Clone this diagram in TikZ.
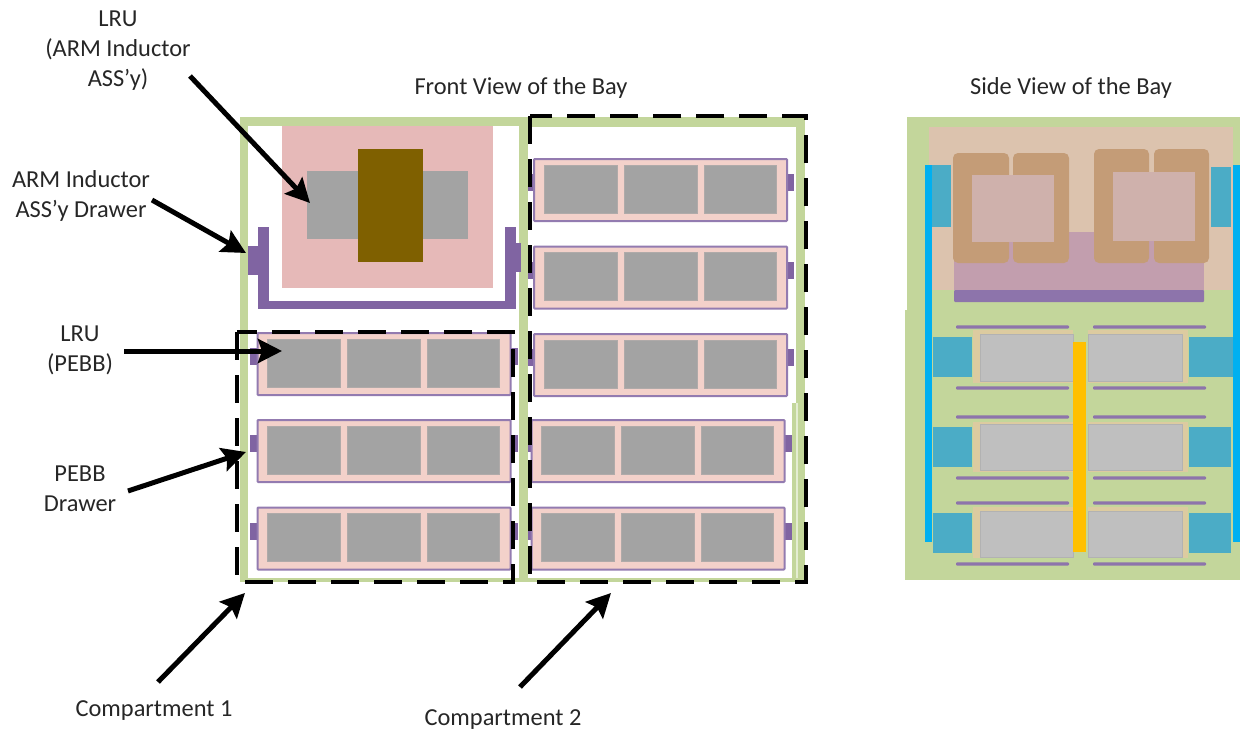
\documentclass[tikz,border=0pt]{standalone}
\usepackage{fontspec}
\setmainfont{Carlito}
\usetikzlibrary{arrows.meta}
\definecolor{framegreen}{HTML}{C3D69B}
\definecolor{rosefill}{HTML}{E6B9B8}
\definecolor{lrugrey}{HTML}{A3A3A3}
\definecolor{corebrown}{HTML}{7F6000}
\definecolor{drawerpurple}{HTML}{8064A2}
\definecolor{drawerpink}{HTML}{F3D1CA}
\definecolor{tanfill}{HTML}{DCC3AE}
\definecolor{mauvefill}{HTML}{C29EAE}
\definecolor{coilfill}{HTML}{C49C77}
\definecolor{innerfill}{HTML}{CFB1AC}
\definecolor{tealfill}{HTML}{4BACC6}
\definecolor{railblue}{HTML}{00B0F0}
\definecolor{orangebar}{HTML}{FFC000}
\definecolor{sidegrey}{HTML}{BFBFBF}
\definecolor{sidetan}{HTML}{DCCBA0}
\tikzset{
  label text/.style={font=\fontsize{24.4}{30}\selectfont, inner sep=0pt, align=center, text=black!85},
  callout/.style={line width=5pt, draw=black, -{Stealth[length=24pt,width=24pt,inset=4pt]}},
  compartment/.style={line width=3.2pt, draw=black, dash pattern=on 28pt off 15pt},
  drawer body/.style={fill=drawerpink, draw=drawerpurple!85, line width=2pt, rounded corners=0.8pt},
  lru block/.style={fill=lrugrey, draw=lrugrey!85!drawerpink, line width=.6pt},
  tab/.style={fill=drawerpurple},
  coil/.style={fill=coilfill, rounded corners=5pt},
  side rail/.style={fill=drawerpurple!90, rounded corners=1pt},
  side lru/.style={fill=sidegrey, draw=black!30, line width=.8pt},
}
% #1 left x, #2 top y, #3 grey-block shift, #4 left edge of the left tab
\newcommand{\drawerrow}[4]{%
  \fill[tab] (#4,#2+15) rectangle (#1+1,#2+32);
  \fill[tab] (#1+252,#2+15) rectangle (#1+260,#2+32);
  \path[drawer body] (#1,#2) rectangle (#1+253,#2+62);
  \path[lru block] (#1+#3,#2+6) rectangle (#1+#3+73,#2+54);
  \path[lru block] (#1+#3+80,#2+6) rectangle (#1+#3+153,#2+54);
  \path[lru block] (#1+#3+160,#2+6) rectangle (#1+#3+232,#2+54);
}
\begin{document}
\begin{tikzpicture}[x=1pt,y=-1pt]
\useasboundingbox (0,0) rectangle (1243,731);
% bay frame
\fill[framegreen] (240,117) rectangle (805,582);
\fill[white] (248,126) rectangle (519,577.5);
\fill[white] (527.5,127) rectangle (796,577.5);
\fill[framegreen] (792,403) rectangle (795.5,577.5);
\fill[framegreen!45] (795.5,403) rectangle (798,577.5);
% inductor drawer
\fill[rosefill] (282,126) rectangle (493,288);
\fill[lrugrey] (307,171) rectangle (468,239);
\fill[corebrown] (358,149) rectangle (423,262);
\fill[tab] (258,227) rectangle (269,309);
\fill[tab] (258,301) rectangle (516,309);
\fill[tab] (505,227) rectangle (516,309);
\fill[tab] (248,246) rectangle (258,275);
\fill[tab] (516,243) rectangle (521,272);
% drawers
\drawerrow{257.5}{333}{10}{249.5}
\drawerrow{257.5}{420}{10}{249.5}
\drawerrow{257.5}{507.5}{10}{249.5}
\drawerrow{534}{159}{10}{527.5}
\drawerrow{534}{246.5}{10}{527.5}
\drawerrow{534}{334}{10}{527.5}
\drawerrow{531.5}{420}{10}{527.5}
\drawerrow{531.5}{507.5}{10}{527.5}
% compartments
\draw[compartment] (237,332) -- (237,582) -- (513,582) -- (513,332) -- cycle;
\draw[compartment] (530,116) -- (530,582) -- (806,582) -- (806,116) -- cycle;
% side view
\fill[framegreen] (907,117) rectangle (1240,580);
\fill[framegreen] (905,310) rectangle (907,580);
\fill[tanfill] (929,127) rectangle (1233,290);
\fill[mauvefill] (954,232) rectangle (1204,290);
\fill[side rail] (954,290) rectangle (1204,302);
\path[coil] (953,153) rectangle (1009,263);
\path[coil] (1013,153) rectangle (1069,263);
\path[coil] (1094,149) rectangle (1149,263);
\path[coil] (1154,149) rectangle (1209,263);
\fill[innerfill] (972,175) rectangle (1054,242);
\fill[innerfill] (1113,172) rectangle (1195,241);
\fill[railblue] (925,165) rectangle (932,542);
\fill[railblue] (1233,165) rectangle (1240,542);
\fill[tealfill] (932,165) rectangle (951,227);
\fill[tealfill] (1211,167) rectangle (1231,227);
\foreach \ya/\yb/\ga/\gb/\ta/\tb/\tr in {330/383/334/381/337/377/1233,422/472/424/470/427/467/1231,507/558/511/557/513/553/1231}{
  \fill[tealfill] (932.5,\ta) rectangle (972,\tb);
  \fill[tealfill] (1189,\ta) rectangle (\tr,\tb);
  \fill[sidetan] (973,\ya) rectangle (1073,\yb);
  \fill[sidetan] (1088,\ya) rectangle (1188,\yb);
  \path[side lru] (980,\ga) rectangle (1073,\gb);
  \path[side lru] (1088,\ga) rectangle (1182,\gb);
}
\fill[orangebar] (1073,342) rectangle (1086,552);
\foreach \yy in {327,388,417,478,503,564}{
  \path[side rail] (956,\yy-1.7) rectangle (1069,\yy+1.7);
  \path[side rail] (1093,\yy-1.7) rectangle (1206,\yy+1.7);
}
% labels
\node[label text] (frontview) at (521,87.5) {Front View of the Bay};
\node[label text] (sideview) at (1071,87.5) {Side View of the Bay};
\node[label text] (lruarm) at (118,51) {LRU\\(ARM Inductor\\ASS’y)};
\node[label text] (drawerarm) at (81,195.5) {ARM Inductor\\ASS’y Drawer};
\node[label text] (lrupebb) at (80,350.5) {LRU\\(PEBB)};
\node[label text] (pebbdrawer) at (80,489) {PEBB\\Drawer};
\node[label text] (compone) at (154,710.5) {Compartment 1};
\node[label text] (comptwo) at (503,719.5) {Compartment 2};
% callout ends
\coordinate (a1s) at (190,76);   \coordinate (a1e) at (310,203);
\coordinate (a2s) at (152,200);  \coordinate (a2e) at (246,253);
\coordinate (a3s) at (124,351);  \coordinate (a3e) at (282,351);
\coordinate (a4s) at (128,491);  \coordinate (a4e) at (246,452);
\coordinate (a5s) at (158,682);  \coordinate (a5e) at (245,593);
\coordinate (a6s) at (520,687);  \coordinate (a6e) at (611,593);
\draw[callout] (a1s) -- (a1e);
\draw[callout] (a2s) -- (a2e);
\draw[callout] (a3s) -- (a3e);
\draw[callout] (a4s) -- (a4e);
\draw[callout] (a5s) -- (a5e);
\draw[callout] (a6s) -- (a6e);
\end{tikzpicture}
\end{document}
